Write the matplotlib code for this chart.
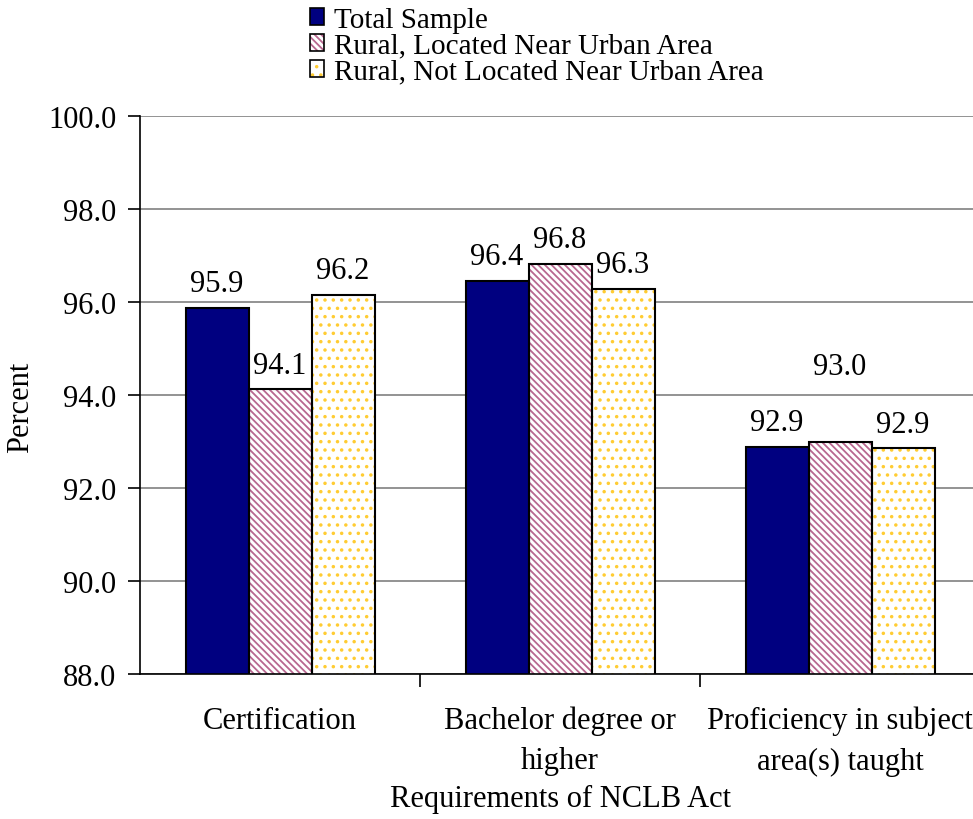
import numpy as np
import matplotlib
matplotlib.use("Agg")
import matplotlib.pyplot as plt
from matplotlib.patches import Patch
from matplotlib.legend_handler import HandlerTuple

# data
categories = ["Certification", "Bachelor degree or\nhigher", "Proficiency in subject\narea(s) taught"]
series = ["Total Sample", "Rural, Located Near Urban Area", "Rural, Not Located Near Urban Area"]
total = [95.88, 96.45, 92.88]
near = [94.12, 96.82, 92.98]
not_near = [96.16, 96.29, 92.85]
labels_total = ["95.9", "96.4", "92.9"]
labels_near = ["94.1", "96.8", "93.0"]
labels_not = ["96.2", "96.3", "92.9"]
yticks = [88.0, 90.0, 92.0, 94.0, 96.0, 98.0, 100.0]

plt.rcParams['font.family'] = ['Liberation Serif', 'DejaVu Serif']
plt.rcParams['hatch.linewidth'] = 1.3

fig = plt.figure(figsize=(9.73, 8.2), dpi=100)
ax = fig.add_axes([140 / 973, 1 - 675 / 820, 840 / 973, 558 / 820])

x = np.arange(len(categories))
w = 0.225
styles = [
    dict(face="#000080", hatch=None, hcol="black"),
    dict(face="white", hatch="\\\\\\\\\\", hcol="#B86890"),
    dict(face="white", hatch="..", hcol="#FFCC33"),
]
values = [total, near, not_near]
texts = [labels_total, labels_near, labels_not]
handles = []
for i, (vals, st) in enumerate(zip(values, styles)):
    pos = x + (i - 1) * w
    ax.bar(pos, vals, w, bottom=0, color=st["face"], edgecolor=st["hcol"],
           hatch=st["hatch"], linewidth=0, zorder=2)
    ax.bar(pos, vals, w, fill=False, edgecolor="black", linewidth=1.5, zorder=3)
    h1 = Patch(facecolor=st["face"], edgecolor=st["hcol"], hatch=st["hatch"], linewidth=0)
    h2 = Patch(fill=False, edgecolor="black", linewidth=1.2)
    handles.append((h1, h2))
    for j, (p, v, t) in enumerate(zip(pos, vals, texts[i])):
        off = 7
        if i == 1 and j == 2:
            off = 44  # label sits higher in the original
        ax.annotate(t, (p, v), xytext=(0, off), textcoords="offset points",
                    ha="center", va="bottom", fontsize=22, zorder=4)

ax.set_ylim(88, 100)
ax.set_xlim(-0.5, 2.5)
ax.set_yticks(yticks)
ax.set_yticklabels([f"{t:.1f}" for t in yticks], fontsize=22)
ax.yaxis.grid(True, color="#808080", linewidth=1.2, zorder=0)
ax.set_axisbelow(True)
ax.tick_params(axis="y", direction="out", length=9, width=1.2, pad=8)

ax.set_xticks(x)
ax.set_xticklabels(categories, fontsize=22, linespacing=1.5)
ax.tick_params(axis="x", which="major", length=0, pad=23)
ax.set_xticks([0.5, 1.5], minor=True)
ax.tick_params(axis="x", which="minor", direction="out", length=9, width=1.2)

for s in ["top", "right"]:
    ax.spines[s].set_visible(False)
ax.spines["left"].set_linewidth(1.2)
ax.spines["bottom"].set_linewidth(1.2)

ax.set_ylabel("Percent", fontsize=22)
ax.yaxis.set_label_coords(-0.125, 0.48)
ax.set_xlabel("Requirements of NCLB Act", fontsize=22, labelpad=6)

fig.legend(handles, series, loc="upper left", bbox_to_anchor=(292 / 973, 1.012),
           frameon=False, fontsize=21, handlelength=0.5, handleheight=0.5,
           handletextpad=0.35, labelspacing=0.0, borderpad=0.1,
           handler_map={tuple: HandlerTuple(ndivide=1, pad=0)})

fig.savefig("out.png", dpi=100)
